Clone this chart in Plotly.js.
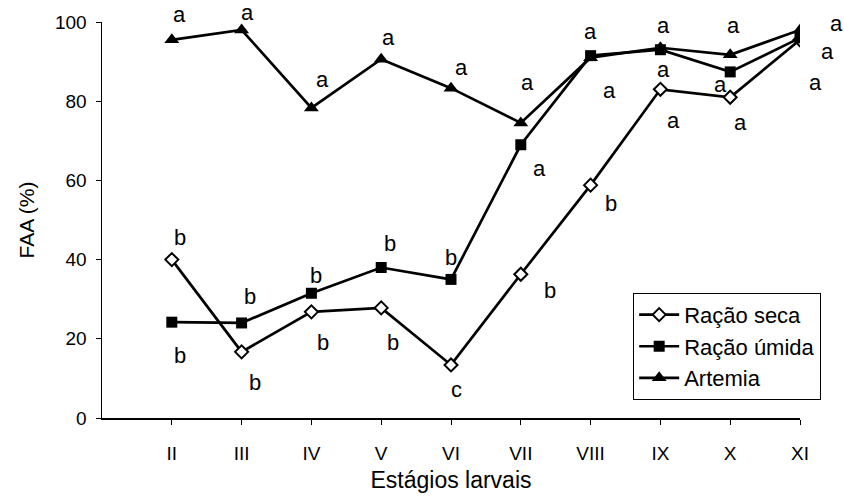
<!DOCTYPE html>
<html><head><meta charset="utf-8">
<script src="https://cdn.plot.ly/plotly-3.0.1.min.js"></script>
<style>html,body{margin:0;padding:0;background:#fff;}#chart{width:844px;height:501px;}</style>
</head><body><div id="chart"></div>
<script>
var stages = ["II","III","IV","V","VI","VII","VIII","IX","X","XI"];
var racaoSeca = [40, 16.7, 26.8, 27.8, 13.4, 36.3, 58.8, 83, 81, 95.5];
var racaoUmida = [24.2, 24, 31.5, 38, 35, 69, 91.5, 93, 87.4, 96];
var artemia = [95.5, 98, 78.3, 90.6, 83.3, 74.5, 91, 93.5, 91.7, 98];
var lettersSeca = ["b","b","b","b","c","b","b","a","a","a"];
var lettersUmida = ["b","b","b","b","b","a","a","a","a","a"];
var lettersArtemia = ["a","a","a","a","a","a","a","a","a","a"];

// label offsets in pixels (dx right, dy down) relative to each point
var offSeca = [[8,-22],[13,31],[12,31],[12,35],[5,25],[29,16],[20,18],[13,31],[10,25],[15,43]];
var offUmida = [[8,33],[8,-26],[5,-18],[9,-24],[0,-22],[19,24],[19,35],[3,20],[-10,13],[27,14]];
var offArtemia = [[8,-25],[6,-17],[11,-28],[7,-22],[10,-21],[7,-40],[0,-26],[3,-22],[3,-29],[36,-6]];

var FONT = "Liberation Sans, Arial, sans-serif";
var lineStyle = {color:"#000", width:2.7};
var traces = [
  {x:stages, y:racaoSeca, name:"Ração seca", mode:"lines+markers", line:lineStyle,
   marker:{symbol:"diamond", size:10, color:"#fff", line:{color:"#000", width:2}}},
  {x:stages, y:racaoUmida, name:"Ração úmida", mode:"lines+markers", line:lineStyle,
   marker:{symbol:"square", size:11, color:"#000"}},
  {x:stages, y:artemia, name:"Artemia", mode:"lines+markers", line:lineStyle,
   marker:{symbol:"triangle-up", size:13, color:"#000"}}
];

var annotations = [];
function addLetters(vals, letters, offs){
  for (var i=0;i<stages.length;i++){
    annotations.push({x:stages[i], y:vals[i], xref:"x", yref:"y", text:letters[i],
      showarrow:false, xshift:offs[i][0], yshift:-offs[i][1],
      font:{family:FONT, size:22, color:"#000"}});
  }
}
addLetters(racaoSeca, lettersSeca, offSeca);
addLetters(racaoUmida, lettersUmida, offUmida);
addLetters(artemia, lettersArtemia, offArtemia);

var layout = {
  width:844, height:501,
  margin:{l:102, r:44, t:22, b:83},
  paper_bgcolor:"#fff", plot_bgcolor:"#fff",
  font:{family:FONT, color:"#000", size:19},
  showlegend:true,
  legend:{x:0.761, y:0.316, xanchor:"left", yanchor:"top", bgcolor:"#fff",
    bordercolor:"#000", borderwidth:1, font:{family:FONT, size:22, color:"#000"},
    tracegroupgap:0, itemwidth:40},
  xaxis:{type:"category", range:[-1,9], showgrid:false, zeroline:false,
    showline:true, linecolor:"#000", linewidth:1.5, ticks:"outside", ticklen:5,
    tickcolor:"#000", tickwidth:1, ticklabelstandoff:13,
    tickfont:{family:FONT, size:19, color:"#000"},
    title:{text:"Estágios larvais", font:{family:FONT, size:23, color:"#000"}, standoff:8}},
  yaxis:{range:[0,100], tickvals:[0,20,40,60,80,100], showgrid:false, zeroline:false,
    showline:true, linecolor:"#000", linewidth:1.5, ticks:"outside", ticklen:5,
    tickcolor:"#000", tickwidth:1, ticklabelstandoff:5,
    tickfont:{family:FONT, size:19, color:"#000"},
    title:{text:"FAA (%)", font:{family:FONT, size:21, color:"#000"}, standoff:14}},
  annotations:annotations
};
Plotly.newPlot("chart", traces, layout, {displayModeBar:false, staticPlot:true});
</script></body></html>
